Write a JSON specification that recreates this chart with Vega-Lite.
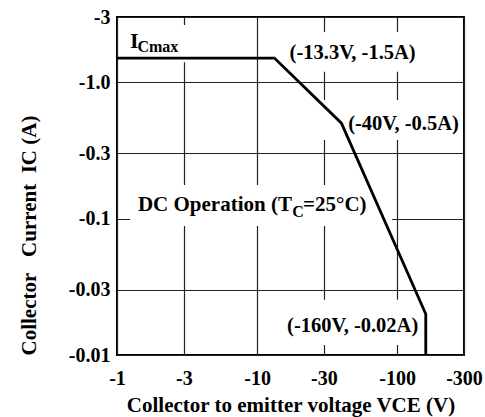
{
  "$schema": "https://vega.github.io/schema/vega-lite/v6.json",
  "width": 347,
  "height": 338,
  "autosize": {"type": "none"},
  "padding": {"left": 117, "top": 17, "right": 21, "bottom": 62},
  "background": "white",
  "config": {
    "view": {"stroke": "black", "strokeWidth": 2},
    "font": "Liberation Serif",
    "axis": {
      "labelFont": "Liberation Serif", "labelFontWeight": "bold", "labelFontSize": 20, "labelColor": "black",
      "titleFont": "Liberation Serif", "titleFontWeight": "bold", "titleFontSize": 21, "titleColor": "black",
      "ticks": false, "domain": false, "grid": true, "gridColor": "#222", "gridWidth": 1.2, "gridOpacity": 1,
      "labelFlush": false, "labelOverlap": false
    },
    "text": {"font": "Liberation Serif", "fontWeight": "bold", "color": "black"}
  },
  "datasets": {
    "soa": [
      {"v": 1, "i": 1.5},
      {"v": 13.3, "i": 1.5},
      {"v": 40, "i": 0.5},
      {"v": 160, "i": 0.02},
      {"v": 160, "i": 0.01}
    ],
    "masks": [
      {"v": 1.14, "v2": 3.61, "i": 1.4, "i2": 2.62},
      {"v": 15.85, "v2": 146, "i": 1.19, "i2": 2.33},
      {"v": 28.2, "v2": 282, "i": 0.377, "i2": 0.74},
      {"v": 1.24, "v2": 92.1, "i": 0.0882, "i2": 0.176},
      {"v": 14.6, "v2": 151, "i": 0.01185, "i2": 0.0254}
    ],
    "points": [
      {"v": 48.1, "i": 1.63, "t": "(-13.3V, -1.5A)"},
      {"v": 111, "i": 0.493, "t": "(-40V, -0.5A)"},
      {"v": 48.1, "i": 0.01635, "t": "(-160V, -0.02A)"}
    ],
    "bigI": [{"v": 1.24, "i": 1.78, "t": "I"}],
    "dc": [
      {"v": 1.41, "i": 0.1137, "t": "DC Operation (T"},
      {"v": 21.3, "i": 0.1137, "t": "=25°C)"}
    ],
    "subs": [
      {"v": 1.4, "i": 1.66, "t": "Cmax"},
      {"v": 17.8, "i": 0.1029, "t": "C"}
    ]
  },
  "encoding": {
    "x": {
      "field": "v", "type": "quantitative",
      "scale": {"type": "log", "domain": [1, 300], "nice": false},
      "axis": {
        "values": [1, 3, 10, 30, 100, 300],
        "labelExpr": "'-' + datum.value",
        "labelPadding": 13,
        "title": "Collector to emitter voltage VCE (V)",
        "titlePadding": 6
      }
    },
    "y": {
      "field": "i", "type": "quantitative",
      "scale": {"type": "log", "domain": [0.01, 3], "nice": false},
      "axis": {
        "values": [0.01, 0.03, 0.1, 0.3, 1, 3],
        "labelExpr": "datum.value == 1 ? '-1.0' : '-' + datum.value",
        "labelPadding": 7,
        "title": "Collector\u00a0\u00a0 Current\u00a0 IC (A)",
        "titleAnchor": "start",
        "titlePadding": 29
      }
    }
  },
  "layer": [
    {
      "data": {"name": "masks"},
      "mark": {"type": "rect", "fill": "white", "stroke": null},
      "encoding": {"x2": {"field": "v2"}, "y2": {"field": "i2"}}
    },
    {
      "data": {"name": "soa"},
      "mark": {"type": "line", "color": "black", "strokeWidth": 2.8, "strokeJoin": "miter"},
      "encoding": {"order": {"value": 0}}
    },
    {
      "data": {"name": "points"},
      "mark": {"type": "text", "fontSize": 20.5, "align": "center", "baseline": "middle"},
      "encoding": {"text": {"field": "t"}}
    },
    {
      "data": {"name": "bigI"},
      "mark": {"type": "text", "fontSize": 22, "align": "left", "baseline": "alphabetic"},
      "encoding": {"text": {"field": "t"}}
    },
    {
      "data": {"name": "dc"},
      "mark": {"type": "text", "fontSize": 21, "align": "left", "baseline": "alphabetic"},
      "encoding": {"text": {"field": "t"}}
    },
    {
      "data": {"name": "subs"},
      "mark": {"type": "text", "fontSize": 16, "align": "left", "baseline": "alphabetic"},
      "encoding": {"text": {"field": "t"}}
    }
  ]
}
